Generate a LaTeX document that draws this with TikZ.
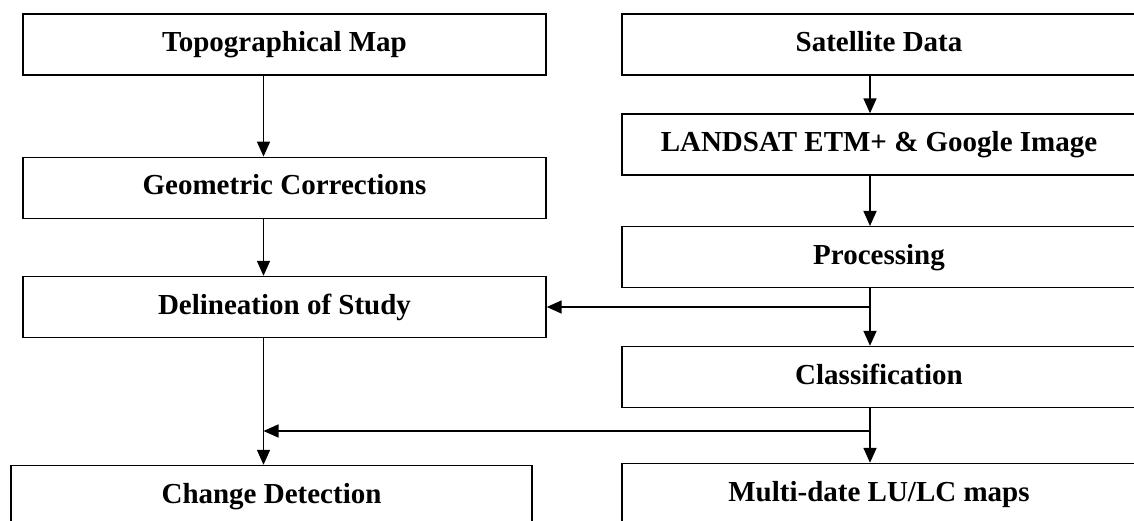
\documentclass[tikz,border=0pt]{standalone}
\usepackage{fontspec}
\setmainfont{Liberation Serif}
\usetikzlibrary{arrows.meta}
\tikzset{
  box/.style={draw=black, line width=1.4pt, rectangle, inner sep=0pt,
    minimum height=61pt, text height=19pt, text depth=5pt,
    font=\fontsize{29}{34}\selectfont\bfseries},
  lbox/.style={box, minimum width=523pt},
  rbox/.style={box, minimum width=514pt},
  arr/.style={line width=1.6pt, -{Triangle[length=15pt,width=13pt]}}
}
\begin{document}
\begin{tikzpicture}[x=1pt,y=-1pt]
\useasboundingbox (0,0) rectangle (1134,521);
\clip (0,0) rectangle (1134,521);
% left column
\node[lbox] (topo) at (284.5,44.5) {Topographical Map};
\node[lbox] (geo) at (284.5,187.8) {Geometric Corrections};
\node[lbox] (deline) at (284.5,307) {Delineation of Study};
\node[box, minimum width=521pt] (change) at (271.5,496) {Change Detection};
% right column
\node[rbox] (sat) at (879,44.5) {Satellite Data};
\node[rbox] (landsat) at (879,144.5) {LANDSAT ETM+ \& Google Image};
\node[rbox] (proc) at (879,257.2) {Processing};
\node[rbox] (class) at (879,377) {Classification};
\node[rbox] (multi) at (879,494) {Multi-date LU/LC maps};
% guide coordinates
\coordinate (xl) at (263.5,0);
\coordinate (xr) at (870,0);
\coordinate (j2r) at (870,431);
\coordinate (j2l) at (263.5,431);
% connectors
\draw[arr] (topo.south -| xl) -- (geo.north -| xl);
\draw[arr] (geo.south -| xl) -- (deline.north -| xl);
\draw[arr] (sat.south -| xr) -- (landsat.north -| xr);
\draw[arr] (landsat.south -| xr) -- (proc.north -| xr);
\draw[arr] (proc.south -| xr) -- (class.north -| xr);
\draw[arr] (deline.east -| xr) -- (deline.east);
\draw[arr] (deline.south -| xl) -- (change.north -| xl);
\draw[arr] (class.south -| xr) -- (multi.north -| xr);
\draw[arr] (j2r) -- (j2l);
\end{tikzpicture}
\end{document}
